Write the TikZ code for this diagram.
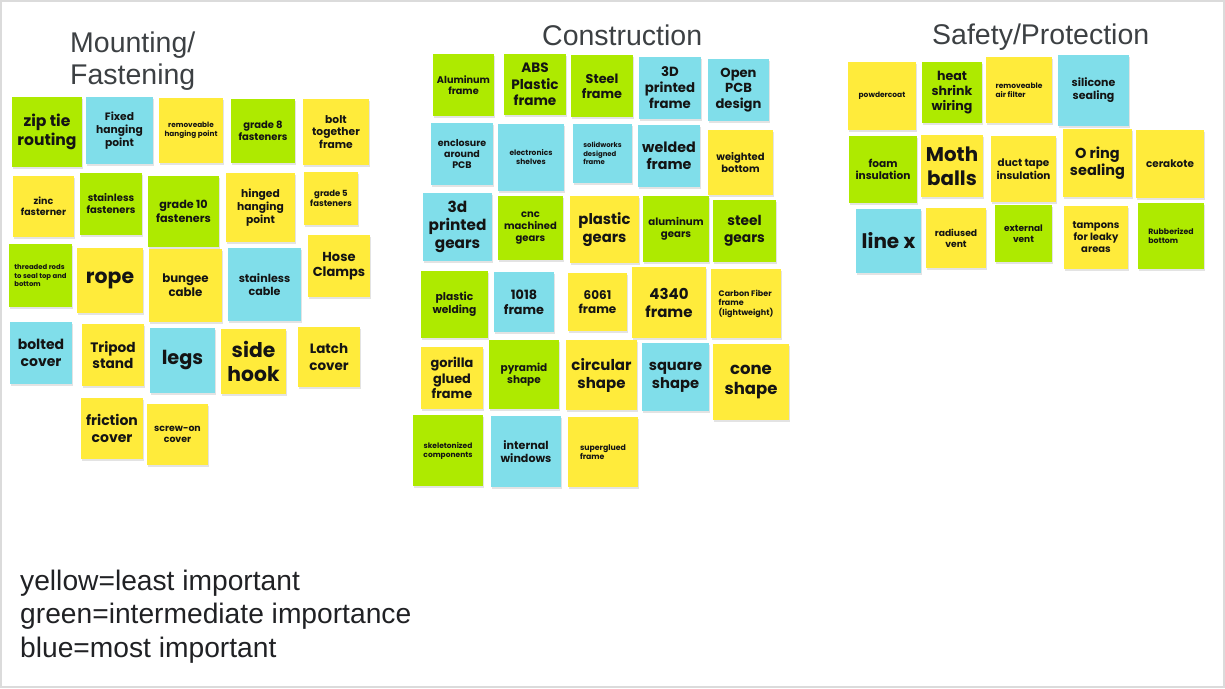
\documentclass[tikz,border=0pt]{standalone}
\usepackage{fontspec}
\setmainfont{Liberation Sans}
\newfontfamily\notefont{Poppins}
\usetikzlibrary{shadows}

\definecolor{noteyel}{HTML}{FFEB3B}
\definecolor{notegrn}{HTML}{AEEA00}
\definecolor{noteblu}{HTML}{80DEEA}
\definecolor{headgray}{HTML}{3C4043}
\definecolor{legendgray}{HTML}{202124}

\begin{document}
\begin{tikzpicture}[x=1pt,y=-1pt,
  note/.style={rectangle,inner sep=0pt,align=center,text=black!92,
    drop shadow={shadow xshift=0.6pt,shadow yshift=-1.6pt,opacity=0.22}},
  yel/.style={note,fill=noteyel},
  grn/.style={note,fill=notegrn},
  blu/.style={note,fill=noteblu},
  sz/.style 2 args={minimum width=#1,minimum height=#2},
  fs/.style={font={\pgfmathsetmacro\notebls{1.2*#1}\notefont\bfseries\fontsize{#1}{\notebls}\selectfont}},
  head/.style={anchor=base west,inner sep=0pt,text=headgray,font=\fontsize{28.5}{31}\selectfont},
  legend/.style={anchor=base west,inner sep=0pt,text=legendgray,font=\fontsize{28.2}{33}\selectfont}]
  \useasboundingbox (0,0) rectangle (1225,688);
  \draw[line width=2.5pt,black!14] (1,1) rectangle (1224,687);

  % titles
  \node[head] (tmount) at (70,52) {Mounting/};
  \node[head] (tfasten) at (70,84) {Fastening};
  \node[head] (tcons) at (542,45) {Construction};
  \node[head] (tsafe) at (932,44) {Safety/Protection};

  % Mounting/Fastening
  \node[grn,fs=15.6,sz={70}{70}] (zip) at (47,132) {zip tie\\routing};
  \node[blu,fs=10.7,sz={67}{67}] (fixed) at (119.5,130.5) {Fixed\\hanging\\point};
  \node[yel,fs=7.3,sz={64}{65}] (remhang) at (191,130.5) {removeable\\hanging point};
  \node[grn,fs=10,sz={64}{64}] (grade8) at (263,131) {grade 8\\fasteners};
  \node[yel,fs=10.7,sz={66}{66}] (bolt) at (336,132) {bolt\\together\\frame};
  \node[yel,fs=9.5,sz={61}{61}] (zinc) at (43.5,206.5) {zinc\\fasterner};
  \node[grn,fs=10,sz={62}{62}] (stainf) at (111,204) {stainless\\fasteners};
  \node[grn,fs=11.2,sz={71}{71}] (grade10) at (183.5,211.5) {grade 10\\fasteners};
  \node[yel,fs=10.7,sz={69}{69}] (hinged) at (260.5,207.5) {hinged\\hanging\\point};
  \node[yel,fs=8.5,sz={54}{53}] (grade5) at (331,198.5) {grade 5\\fasteners};
  \node[yel,fs=13,sz={62}{62}] (hose) at (339,266) {Hose\\Clamps};
  \node[grn,fs=6.9,sz={63}{63},align=left] (threaded) at (40.5,275.5) {threaded rods\\to seal top and\\bottom};
  \node[yel,fs=20.4,sz={66}{65}] (rope) at (110,280.5) {rope};
  \node[yel,fs=11.8,sz={73}{73}] (bungee) at (185.5,285.5) {bungee\\cable};
  \node[blu,fs=11.1,sz={73}{73}] (stcable) at (264.5,284.5) {stainless\\cable};
  \node[blu,fs=14,sz={62}{62}] (bolted) at (41,353) {bolted\\cover};
  \node[yel,fs=13.7,sz={62}{62}] (tripod) at (113,355) {Tripod\\stand};
  \node[blu,fs=19.3,sz={65}{65}] (legs) at (182.5,360.5) {legs};
  \node[yel,fs=20.3,sz={65}{65}] (side) at (253.5,361.5) {side\\hook};
  \node[yel,fs=13.5,sz={62}{60}] (latch) at (329,357) {Latch\\cover};
  \node[yel,fs=14,sz={62}{61}] (friction) at (112,428.5) {friction\\cover};
  \node[yel,fs=9.4,sz={61}{61}] (screw) at (177.5,434.5) {screw-on\\cover};

  % Construction
  \node[grn,fs=9.7,sz={61}{62}] (alum) at (463.5,85) {Aluminum\\frame};
  \node[grn,fs=13.6,sz={62}{61}] (abs) at (535,84.5) {ABS\\Plastic\\frame};
  \node[grn,fs=12.8,sz={62}{62}] (steel) at (602,86) {Steel\\frame};
  \node[blu,fs=13.3,sz={62}{62}] (threed) at (670,88) {3D\\printed\\frame};
  \node[blu,fs=13.1,sz={61}{62}] (openpcb) at (738.5,90) {Open\\PCB\\design};
  \node[blu,fs=9.5,sz={62}{62}] (encl) at (462,154) {enclosure\\around\\PCB};
  \node[blu,fs=7.5,sz={66}{67}] (shelves) at (531,157.5) {electronics\\shelves};
  \node[blu,fs=6.9,sz={59}{59},align=left] (solid) at (602.5,153.5) {solidworks\\designed\\frame};
  \node[blu,fs=14.3,sz={62}{62}] (welded) at (669,156) {welded\\frame};
  \node[yel,fs=10,sz={65}{65}] (weighted) at (740.5,162.5) {weighted\\bottom};
  \node[blu,fs=15.3,sz={69}{68}] (pgears) at (457.5,227) {3d\\printed\\gears};
  \node[grn,fs=10,sz={65}{64}] (cnc) at (530.5,228) {cnc\\machined\\gears};
  \node[yel,fs=14.8,sz={69}{67}] (plgears) at (604.5,229.5) {plastic\\gears};
  \node[grn,fs=10.2,sz={66}{66}] (algears) at (676,229) {aluminum\\gears};
  \node[grn,fs=13.8,sz={63}{62}] (stgears) at (744.5,231) {steel\\gears};
  \node[grn,fs=10.7,sz={67}{67}] (plweld) at (454.5,304.5) {plastic\\welding};
  \node[blu,fs=12.8,sz={60}{60}] (f1018) at (524,302) {1018\\frame};
  \node[yel,fs=12,sz={59}{58}] (f6061) at (597.5,302) {6061\\frame};
  \node[yel,fs=15,sz={74}{71}] (f4340) at (669,302.5) {4340\\frame};
  \node[yel,fs=8,sz={70}{69},align=left] (carbon) at (746,303.5) {Carbon Fiber\\frame\\(lightweight)};
  \node[yel,fs=12.9,sz={62}{62}] (gorilla) at (452,378) {gorilla\\glued\\frame};
  \node[grn,fs=10.5,sz={70}{69}] (pyramid) at (524,374.5) {pyramid\\shape};
  \node[yel,fs=15,sz={71}{70}] (circ) at (601.5,375) {circular\\shape};
  \node[blu,fs=14.7,sz={67}{68}] (square) at (675.5,377) {square\\shape};
  \node[yel,fs=16.5,sz={76}{76}] (cone) at (751,382) {cone\\shape};
  \node[grn,fs=7.5,sz={70}{71}] (skel) at (448,450.5) {skeletonized\\components};
  \node[blu,fs=11.1,sz={70}{71}] (windows) at (526,451.5) {internal\\windows};
  \node[yel,fs=7.8,sz={70}{70},align=left] (superglue) at (603,452) {superglued\\frame};

  % Safety/Protection
  \node[yel,fs=7.5,sz={68}{68}] (powder) at (882,96) {powdercoat};
  \node[grn,fs=12.6,sz={60}{61}] (heat) at (952,92.5) {heat\\shrink\\wiring};
  \node[yel,fs=7.5,sz={66}{66},align=left] (airfilter) at (1019,90) {removeable\\air filter};
  \node[blu,fs=11,sz={71}{71}] (silicone) at (1093.5,90.5) {silicone\\sealing};
  \node[grn,fs=10.6,sz={68}{67}] (foam) at (883,169.5) {foam\\insulation};
  \node[yel,fs=19.8,sz={62}{62}] (moth) at (952,166) {Moth\\balls};
  \node[yel,fs=10.4,sz={65}{66}] (duct) at (1023.5,169) {duct tape\\insulation};
  \node[yel,fs=14.5,sz={69}{68}] (oring) at (1097.5,163) {O ring\\sealing};
  \node[yel,fs=10.4,sz={68}{68}] (cerakote) at (1170,164) {cerakote};
  \node[blu,fs=20,sz={65}{64}] (linex) at (888.5,241) {line x};
  \node[yel,fs=9.2,sz={60}{60}] (radiused) at (956,238) {radiused\\vent};
  \node[grn,fs=9,sz={57}{57}] (external) at (1023.5,233.5) {external\\vent};
  \node[yel,fs=10,sz={64}{63}] (tampons) at (1096,237.5) {tampons\\for leaky\\areas};
  \node[grn,fs=7.8,sz={66}{66},align=left] (rubber) at (1171,236) {Rubberized\\bottom};

  % legend
  \node[legend] (lyel) at (20,590) {yellow=least important};
  \node[legend] (lgrn) at (20,623.5) {green=intermediate importance};
  \node[legend] (lblu) at (20,657) {blue=most important};
\end{tikzpicture}
\end{document}
